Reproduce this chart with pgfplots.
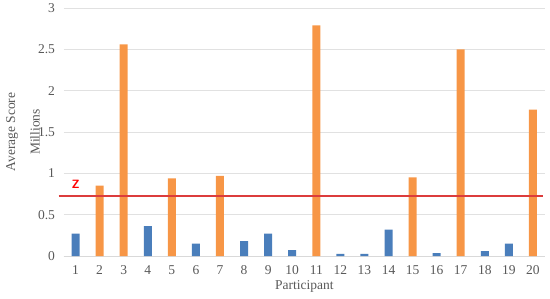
\documentclass[border=0pt]{standalone}
\usepackage{fontspec}
\setmainfont{Liberation Serif}
\usepackage{pgfplots}
\pgfplotsset{compat=1.18}
\definecolor{barblue}{RGB}{74,126,187}
\definecolor{barorange}{RGB}{247,150,70}
\definecolor{ticktext}{RGB}{89,89,89}
\definecolor{gridgray}{RGB}{217,217,217}
\definecolor{zred}{RGB}{220,60,60}

\begin{document}
\begin{tikzpicture}
\useasboundingbox (0,0) rectangle (550pt,298pt);
\begin{axis}[
    at={(63.5pt,42pt)},
    anchor=origin,
    scale only axis,
    width=481.5pt,
    height=248pt,
    xmin=0.5, xmax=20.5,
    ymin=0, ymax=3,
    xtick={1,...,20},
    ytick={0,0.5,...,3},
    yticklabels={0,0.5,1,1.5,2,2.5,3},
    axis x line*=bottom,
    axis y line*=left,
    x axis line style={draw=gridgray},
    y axis line style={draw=none},
    ymajorgrids,
    grid style={draw=gridgray!80, line width=0.6pt},
    major tick length=0pt,
    tick label style={font=\fontsize{13.5}{14}\selectfont, text=ticktext},
    /pgf/number format/assume math mode=true,
    xticklabel style={yshift=-6pt},
    yticklabel style={xshift=-5pt},
    xlabel={Participant},
    xlabel style={font=\fontsize{13.5}{14}\selectfont, text=ticktext, yshift=1pt},
    clip=false,
]
% participants below Z
\addplot[ybar, bar width=8pt, bar shift=0pt, draw=none, fill=barblue] coordinates {
    (1,0.27) (4,0.36) (6,0.15) (8,0.18) (9,0.27) (10,0.07)
    (12,0.025) (13,0.025) (14,0.32) (16,0.035) (18,0.06) (19,0.15)
};
% participants above Z
\addplot[ybar, bar width=8pt, bar shift=0pt, draw=none, fill=barorange] coordinates {
    (2,0.85) (3,2.56) (5,0.94) (7,0.97) (11,2.79)
    (15,0.95) (17,2.50) (20,1.77)
};
% threshold Z
\addplot[draw=zred, line width=2pt, mark=none] coordinates {(0.3,0.73) (20.4,0.73)};
\node[font=\sffamily\bfseries\fontsize{12}{13}\selectfont, text=red, anchor=south]
    at (axis cs:1,0.77) {Z};
\end{axis}
\node[rotate=90, font=\fontsize{13.5}{14}\selectfont, text=ticktext] at (12pt,166pt) {Average Score};
\node[rotate=90, font=\fontsize{13.5}{14}\selectfont, text=ticktext] at (35pt,166pt) {Millions};
\end{tikzpicture}
\end{document}
